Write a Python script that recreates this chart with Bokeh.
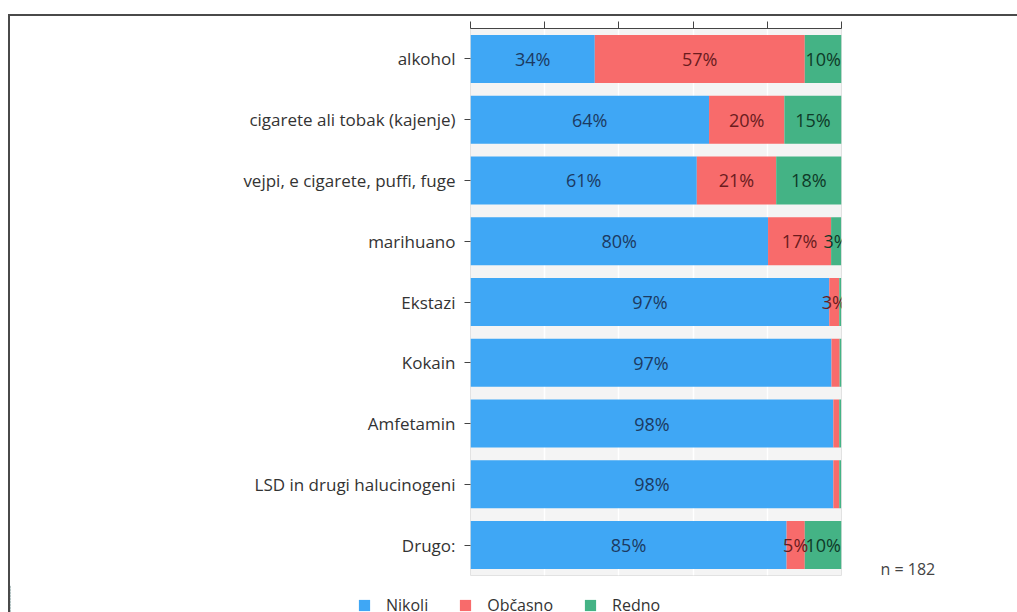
from bokeh.plotting import figure
from bokeh.layouts import column, row
from bokeh.models import (ColumnDataSource, FactorRange, Range1d, LabelSet, Label,
                          Legend, LegendItem, FixedTicker)
from bokeh.core.properties import value
from bokeh.embed import file_html
from bokeh.resources import INLINE

categories = ["alkohol", "cigarete ali tobak (kajenje)", "vejpi, e cigarete, puffi, fuge",
              "marihuano", "Ekstazi", "Kokain", "Amfetamin", "LSD in drugi halucinogeni", "Drugo:"]
series = ["Nikoli", "Občasno", "Redno"]
nikoli = [33.5, 64.3, 61.0, 80.2, 96.7, 97.3, 97.8, 97.8, 85.2]
obcasno = [56.6, 20.3, 21.4, 17.0, 2.7, 2.2, 1.6, 1.6, 4.9]
redno = [9.9, 15.4, 17.6, 2.7, 0.5, 0.5, 0.5, 0.5, 9.9]
x_ticks = [0, 20, 40, 60, 80, 100]
n_total = 182

colors = ["#3fa7f5", "#f86b6b", "#44b385"]
text_colors = ["#1c3a62", "#6a1c1e", "#0f3a28"]
FONT = "Open Sans"

src = ColumnDataSource(dict(cat=categories, Nikoli=nikoli, Občasno=obcasno, Redno=redno))

# ---------------- main chart ----------------
p = figure(width=841, height=569,
           y_range=FactorRange(factors=categories[::-1]),
           x_range=Range1d(0, 100),
           x_axis_location="above",
           output_backend="svg", toolbar_location=None,
           min_border_left=460, min_border_right=10, min_border_top=12, min_border_bottom=10)

p.hbar_stack(series, y="cat", height=0.79, color=colors, line_color=None, source=src)

starts = [0.0] * len(categories)
for s, vals, tc in zip(series, [nikoli, obcasno, redno], text_colors):
    xs = [st + v / 2 for st, v in zip(starts, vals)]
    txt = [f"{round(v)}%" if v >= 2.5 else "" for v in vals]
    lsrc = ColumnDataSource(dict(x=xs, y=categories, t=txt))
    p.add_layout(LabelSet(x="x", y="y", text="t", source=lsrc, text_align="center",
                          text_baseline="middle", text_font=value(FONT), text_font_size="18px",
                          text_color=tc))
    starts = [st + v for st, v in zip(starts, vals)]

p.background_fill_color = "#f4f4f4"
p.border_fill_color = "white"
p.outline_line_color = "#e2e2e2"
p.ygrid.grid_line_color = None
p.xgrid.grid_line_color = "#ffffff"
p.xgrid.grid_line_width = 1.5

xa = p.xaxis[0]
xa.ticker = FixedTicker(ticks=x_ticks)
xa.major_label_overrides = {t: "" for t in x_ticks}
xa.major_label_text_font_size = "1px"
xa.major_label_standoff = 0
xa.major_tick_out = 7
xa.major_tick_in = 0
xa.minor_tick_line_color = None
xa.axis_line_color = "#444444"
xa.major_tick_line_color = "#444444"

ya = p.yaxis[0]
ya.axis_line_color = None
ya.major_tick_out = 6
ya.major_tick_in = 0
ya.major_tick_line_color = "#444444"
ya.major_label_standoff = 9
ya.major_label_text_font = FONT
ya.major_label_text_font_size = "17px"
ya.major_label_text_color = "#333333"

# ---------------- note on the right ----------------
pn = figure(width=166, height=569, x_range=Range1d(0, 1), y_range=Range1d(0, 1),
            output_backend="svg", toolbar_location=None,
            min_border_left=0, min_border_right=0, min_border_top=0, min_border_bottom=0)
pn.axis.visible = False
pn.grid.visible = False
pn.outline_line_color = None
pn.add_layout(Label(x=29, y=7, x_units="screen", y_units="screen", text=f"n = {n_total}",
                    text_font=FONT, text_font_size="16px", text_color="#444444",
                    text_baseline="middle"))

# ---------------- legend strip ----------------
pl = figure(width=1007, height=27, x_range=Range1d(200, 300),
            y_range=FactorRange(factors=categories[::-1]),
            output_backend="svg", toolbar_location=None,
            min_border_left=0, min_border_right=0, min_border_top=0, min_border_bottom=0)
pl.axis.visible = False
pl.grid.visible = False
pl.outline_line_color = None
leg_r = pl.hbar_stack(series, y="cat", height=0.79, color=colors, line_color=None, source=src)
legend = Legend(items=[LegendItem(label=s, renderers=[r]) for s, r in zip(series, leg_r)],
                orientation="horizontal", location=(347, -4),
                glyph_width=14, glyph_height=14, label_standoff=15, spacing=30,
                label_text_font=FONT, label_text_font_size="16px", label_text_color="#333333",
                border_line_color=None, background_fill_alpha=0, padding=0, margin=0)
pl.add_layout(legend, "center")

layout = column(row(p, pn), pl,
                styles={"margin-left": "8px", "margin-top": "14px",
                        "border-left": "2px solid #4a4a4a", "border-top": "2px solid #4a4a4a"})

open("out.html", "w").write(file_html(layout, INLINE))
